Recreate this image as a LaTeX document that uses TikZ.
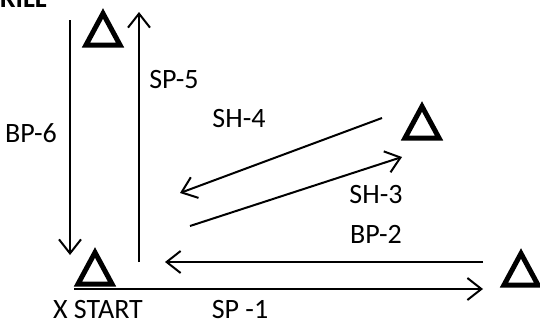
\documentclass[tikz,border=0pt]{standalone}
\usepackage{fontspec}
\setmainfont{Carlito}
\usetikzlibrary{arrows.meta}
\tikzset{
  cone/.pic={\draw[line width=5pt, line join=miter] (-17,14) -- (17,14) -- (0,-17.5) -- cycle;},
  move/.style={line width=2pt, -{Straight Barb[length=14pt,width=22pt,line width=2pt]}},
  lbl/.style={font=\fontsize{28}{30}\selectfont, anchor=base, inner sep=0pt},
}
\begin{document}
\begin{tikzpicture}[x=1pt,y=-1pt]
\useasboundingbox (0,0) rectangle (540,324);
% title (cut by the top edge)
\node[lbl, font=\bfseries\fontsize{28}{30}\selectfont, anchor=base east] (title) at (47,8) {DRILL};
% cones
\pic (c1) at (103,31) {cone};
\pic (c2) at (95,270) {cone};
\pic (c3) at (422,124) {cone};
\pic (c4) at (521,271) {cone};
% arrow end points
\coordinate (bp6s) at (70,20);   \coordinate (bp6e) at (70,255);
\coordinate (sp5s) at (139,262); \coordinate (sp5e) at (139,12);
\coordinate (bp2s) at (483,262); \coordinate (bp2e) at (165,262);
\coordinate (sp1s) at (74,289);  \coordinate (sp1e) at (483,289);
\coordinate (sh4s) at (382,118); \coordinate (sh4e) at (180,193);
\coordinate (sh3s) at (190,226); \coordinate (sh3e) at (402,157);
\draw[move] (bp6s) -- (bp6e);
\draw[move] (sp5s) -- (sp5e);
\draw[move] (bp2s) -- (bp2e);
\draw[move] (sp1s) -- (sp1e);
\draw[move] (sh4s) -- (sh4e);
\draw[move] (sh3s) -- (sh3e);
% labels
\node[lbl] (lbp6) at (31,142) {BP-6};
\node[lbl] (lsp5) at (174,88) {SP-5};
\node[lbl] (lsh4) at (239,127) {SH-4};
\node[lbl] (lsh3) at (376,203) {SH-3};
\node[lbl] (lbp2) at (376,243) {BP-2};
\node[lbl] (lstart) at (98,318) {X START};
\node[lbl] (lsp1) at (240,318) {SP -1};
\end{tikzpicture}
\end{document}
